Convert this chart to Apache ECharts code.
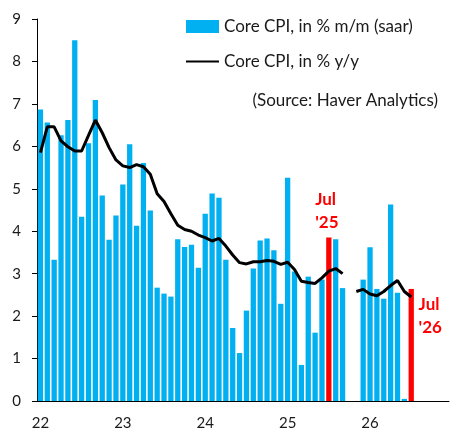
<!DOCTYPE html>
<html>
<head>
<meta charset="utf-8">
<script src="https://cdn.jsdelivr.net/npm/echarts@6/dist/echarts.min.js"></script>
<style>
  html, body { margin: 0; padding: 0; background: #fff; }
  #chart { width: 457px; height: 437px; }
</style>
</head>
<body>
<div id="chart"></div>
<script>
// year tick labels; every year has 12 monthly categories
const yearLabels = ["22", "23", "24", "25", "26"];
const monthNames = ["Jan", "Feb", "Mar", "Apr", "May", "Jun", "Jul", "Aug", "Sep", "Oct", "Nov", "Dec"];

// Core CPI, in % m/m (saar), Jan 22 .. Jul 26
const mmSaar = [
  6.87, 6.56, 3.33, 6.26, 6.62, 8.50, 4.34, 6.07, 7.09, 4.84, 3.80, 4.37,
  5.10, 6.05, 4.13, 5.61, 4.49, 2.67, 2.53, 2.46, 3.81, 3.63, 3.68, 3.14,
  4.41, 4.89, 4.79, 3.33, 1.72, 1.13, 2.13, 3.12, 3.78, 3.83, 3.55, 2.29,
  5.26, 3.05, 0.85, 2.93, 1.61, 2.86, 3.85, 3.81, 2.66, null, null, 2.86,
  3.62, 2.64, 2.41, 4.63, 2.55, 0.05, 2.64
];

// Core CPI, in % y/y
const yy = [
  5.85, 6.46, 6.46, 6.13, 5.99, 5.89, 5.89, 6.26, 6.62, 6.32, 5.97, 5.68,
  5.54, 5.50, 5.57, 5.52, 5.34, 4.88, 4.70, 4.41, 4.14, 4.04, 4.00, 3.91,
  3.85, 3.77, 3.83, 3.65, 3.44, 3.26, 3.23, 3.28, 3.28, 3.31, 3.29, 3.22,
  3.27, 3.10, 2.82, 2.79, 2.77, 2.90, 3.06, 3.12, 3.00, null, 2.58, 2.63,
  2.52, 2.48, 2.58, 2.72, 2.84, 2.58, 2.45
];

// highlighted months
const highlights = ["25-Jul", "26-Jul"];

const categories = [];
yearLabels.forEach(y => monthNames.forEach(m => categories.push(y + "-" + m)));

const blue = "#00B0F0";
const red = "#FF0000";
const font = "Lato, 'Open Sans', sans-serif";

const barData = mmSaar.map((v, i) => {
  const cat = categories[i];
  if (highlights.indexOf(cat) < 0) return v;
  const isLast = cat === highlights[1];
  return {
    value: v,
    itemStyle: { color: red },
    label: {
      show: true,
      formatter: "Jul\n'" + cat.slice(0, 2),
      position: isLast ? [10, 4] : [-11, -50],
      align: "left",
      verticalAlign: "top",
      color: red,
      fontFamily: font,
      fontWeight: "bold",
      fontSize: 17,
      lineHeight: 23
    }
  };
});

const chart = echarts.init(document.getElementById("chart"));
chart.setOption({
  animation: false,
  textStyle: { fontFamily: font },
  grid: { left: 37, right: 8, top: 19, bottom: 36 },
  title: {
    text: "(Source: Haver Analytics)",
    right: 14,
    top: 87,
    textStyle: { fontFamily: font, fontSize: 17, fontWeight: "normal", color: "#1a1a1a" }
  },
  legend: {
    orient: "vertical",
    left: 180,
    top: 13,
    itemWidth: 33,
    itemHeight: 13,
    itemGap: 18,
    textStyle: { fontFamily: font, fontSize: 17, color: "#1a1a1a" },
    data: [
      { name: "Core CPI, in % m/m (saar)", icon: "rect" },
      { name: "Core CPI, in % y/y", itemStyle: { opacity: 0 } }
    ]
  },
  xAxis: {
    type: "category",
    data: categories,
    boundaryGap: true,
    axisLine: { lineStyle: { color: "#000", width: 1 } },
    axisTick: { length: 5, interval: i => i % 12 === 0, lineStyle: { color: "#000" } },
    axisLabel: {
      interval: i => i % 12 === 0,
      formatter: v => v.slice(0, 2),
      margin: 15,
      fontSize: 15,
      color: "#1a1a1a"
    }
  },
  yAxis: {
    type: "value",
    min: 0,
    max: 9,
    interval: 1,
    splitLine: { show: false },
    axisLine: { show: true, lineStyle: { color: "#000", width: 1 } },
    axisTick: { show: true, length: 5, lineStyle: { color: "#000" } },
    axisLabel: { margin: 16, fontSize: 15, color: "#1a1a1a" }
  },
  series: [
    {
      name: "Core CPI, in % m/m (saar)",
      type: "bar",
      data: barData,
      barCategoryGap: "23%",
      itemStyle: { color: blue }
    },
    {
      name: "Core CPI, in % y/y",
      type: "line",
      data: yy,
      symbol: "none",
      connectNulls: false,
      lineStyle: { color: "#000", width: 3 },
      itemStyle: { color: "#000" }
    }
  ]
});
</script>
</body>
</html>
